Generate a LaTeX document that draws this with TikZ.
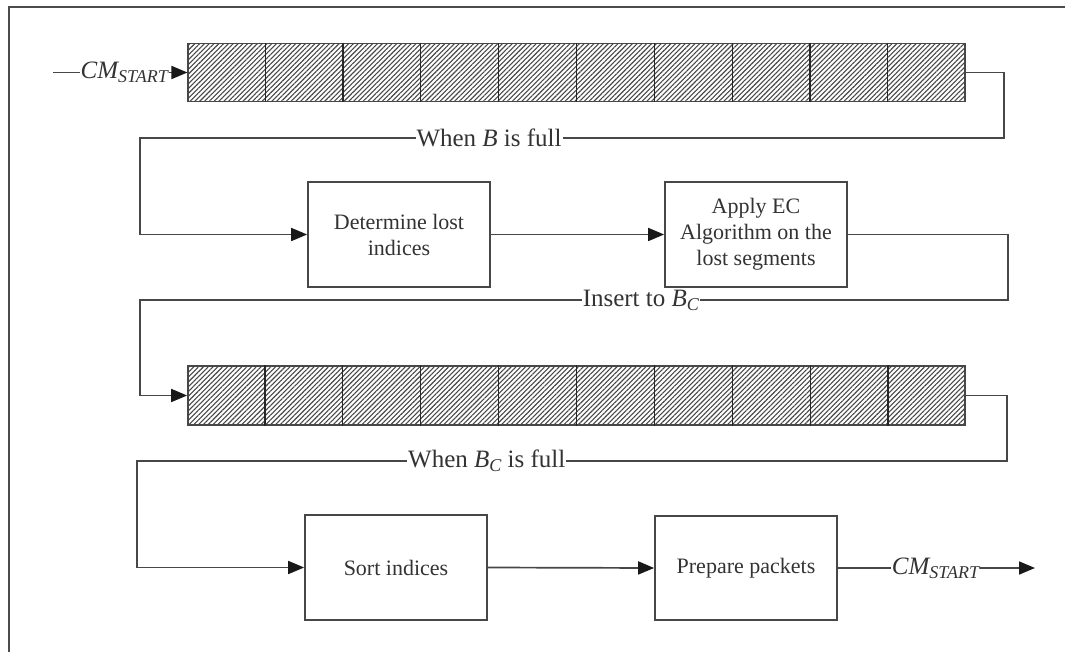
\documentclass[tikz,border=0pt]{standalone}
\usepackage{fontspec}
\setmainfont{Liberation Serif}
\usetikzlibrary{arrows.meta,patterns.meta,calc}

\newcommand{\cmstart}{{\itshape CM\raisebox{-0.35ex}{\fontsize{18}{18}\selectfont START}}}
\newcommand{\bufC}{{\itshape B\raisebox{-0.35ex}{\fontsize{18}{18}\selectfont C}}}

\tikzset{
  ln/.style={draw=black!72, line width=1.7pt},
  arr/.style={ln, -{Triangle[length=16pt,width=13pt,color=black!90]}},
  procbox/.style={ln, rectangle, minimum width=182pt, minimum height=105pt,
    align=center, inner sep=0pt, text=black!80, font=\fontsize{22}{26}\selectfont},
  bufbox/.style={ln, rectangle, minimum width=777pt, minimum height=58pt, inner sep=0pt,
    pattern={Lines[angle=45,distance=3.4pt,line width=1.1pt]}, pattern color=black!72},
  lbl/.style={fill=white, inner sep=1pt, text=black!80, font=\fontsize{25}{28}\selectfont}
}

\begin{document}
\begin{tikzpicture}[x=1pt,y=-1pt]
\useasboundingbox (0,0) rectangle (1065,652);
\fill[white] (0,0) rectangle (1065,652);
% outer frame (left and top edges)
\draw[black!70, line width=2pt] (9,652) -- (9,7) -- (1065,7);

% buffers
\node[bufbox] (buf1) at (576.5,72.5) {};
\node[bufbox, minimum height=59pt] (buf2) at (576.5,395.5) {};
\foreach \b in {buf1,buf2}{
  \foreach \i in {1,...,9}{
    \draw[black!85, line width=1.2pt] ($(\b.north west)!\i/10!(\b.north east)$) -- ($(\b.south west)!\i/10!(\b.south east)$);
  }
}

% process boxes
\node[procbox] (det)  at (399,234.5) {Determine lost\\indices};
\node[procbox] (ec)   at (756,234.5) {Apply EC\\Algorithm on the\\lost segments};
\node[procbox] (sort) at (396,567.5) {Sort indices};
\node[procbox, minimum height=104pt] (prep) at (746,568) {Prepare packets};

% bend points
\coordinate (in)  at (53,72.5);
\coordinate (r1)  at (1004,138);
\coordinate (l1)  at (140,138);
\coordinate (r2)  at (1008,300);
\coordinate (l2)  at (140,300);
\coordinate (r3)  at (1007,461);
\coordinate (l3)  at (137,461);
\coordinate (out) at (1035,568);

% connectors
\draw[arr] (in) -- node[lbl, pos=0.53] {\cmstart} (buf1.west);
\draw[arr] (buf1.east) -| (r1) -- node[lbl, pos=0.596] {When \textit{B} is full} (l1) |- (det.west);
\draw[arr] (det.east) -- (ec.west);
\draw[arr] (ec.east) -| (r2) -- node[lbl, pos=0.423] {Insert to \bufC} (l2) |- (buf2.west);
\draw[arr] (buf2.east) -| (r3) -- node[lbl, pos=0.598] {When \bufC{} is full} (l3) |- (sort.west);
\draw[arr] (sort.east) -- (prep.west);
\draw[arr] (prep.east) -- node[lbl, pos=0.495] {\cmstart} (out);
\end{tikzpicture}
\end{document}
